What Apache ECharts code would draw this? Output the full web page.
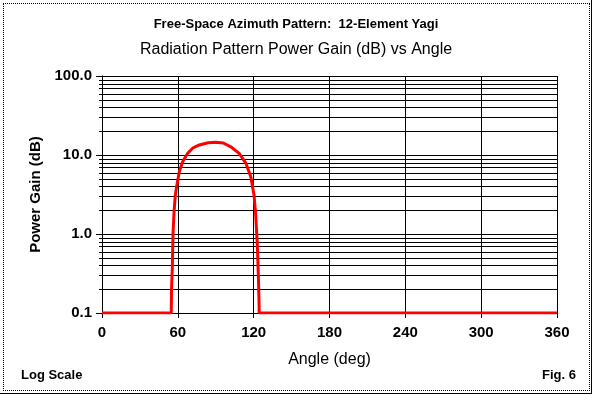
<!DOCTYPE html>
<html><head><meta charset="utf-8">
<script src="https://cdn.jsdelivr.net/npm/echarts@6/dist/echarts.min.js"></script>
<style>
html,body{margin:0;padding:0;background:#fff;}
#wrap{position:relative;width:592px;height:394px;overflow:hidden;background:#fff;}
#b1{position:absolute;left:3px;top:3px;width:585px;height:386px;border:1px dotted #000;pointer-events:none;}
#b2{position:absolute;left:0;top:0;width:591px;height:393px;border-right:1px solid #000;border-bottom:1px solid #000;pointer-events:none;}
#main{position:absolute;left:0;top:0;width:592px;height:394px;}
</style></head>
<body><div id="wrap"><div id="main"></div><div id="b1"></div><div id="b2"></div></div>
<script>
// Data
const angles = [0, 54.8, 55.0, 55.6, 56.2, 57.0, 58.0, 59.3, 61.2, 63.8, 67.8, 71.7, 77.0, 84.0, 90.0, 96.0, 101.9, 108.5, 113.8, 117.7, 120.3, 121.6, 122.9, 123.7, 124.2, 124.4, 360];
const gains  = [0.1, 0.1, 0.2, 0.35, 1.0, 1.9, 3.1, 4.2, 6.2, 8.2, 10.5, 12.2, 13.4, 14.3, 14.5, 14.2, 12.7, 10.5, 7.9, 5.3, 3.1, 1.74, 0.73, 0.30, 0.15, 0.1, 0.1];
const xTicks = [0, 60, 120, 180, 240, 300, 360];
const minorGridValues = [0.2,0.3,0.4,0.5,0.6,0.7,0.8,0.9,2,3,4,5,6,7,8,9,20,30,40,50,60,70,80,90];
const titleText = 'Free-Space Azimuth Pattern:  12-Element Yagi';
const subtitleText = 'Radiation Pattern Power Gain (dB) vs Angle';

const FONT = '"Liberation Sans", Arial, sans-serif';
const chart = echarts.init(document.getElementById('main'), null, {renderer:'canvas'});
const seriesData = angles.map((a, i) => [a, gains[i]]);

chart.setOption({
  animation: false,
  backgroundColor: 'transparent',
  title: [
    {text: titleText, left: 'center', top: 13, textStyle:{fontFamily:FONT, fontSize:13, fontWeight:'bold', color:'#000'}},
    {text: subtitleText, left: 'center', top: 37, textStyle:{fontFamily:FONT, fontSize:16, fontWeight:'normal', color:'#000'}}
  ],
  graphic: [
    {type:'text', left: 21, top: 369, style:{text:'Log Scale', font:'bold 13px ' + FONT, fill:'#000'}},
    {type:'text', right: 16, top: 369, style:{text:'Fig. 6', font:'bold 13px ' + FONT, fill:'#000'}}
  ],
  grid: {left: 102, right: 35, top: 76, bottom: 81, containLabel: false},
  xAxis: {
    type: 'value', min: 0, max: 360, interval: 60,
    name: 'Angle (deg)', nameLocation: 'middle', nameGap: 39,
    nameTextStyle: {fontFamily: FONT, fontSize: 16, color:'#000'},
    axisLine: {show: true, lineStyle: {color:'#000', width:1}},
    axisTick: {show: true, length: 5, lineStyle:{color:'#000'}},
    axisLabel: {fontFamily: FONT, fontSize: 15, fontWeight:'bold', color:'#000', margin: 12},
    splitLine: {show: true, lineStyle: {color:'#000', width:1}}
  },
  yAxis: {
    type: 'log', logBase: 10, min: 0.1, max: 100, splitNumber: 3,
    name: 'Power Gain (dB)', nameLocation: 'middle', nameGap: 57, nameRotate: 90,
    nameTextStyle: {fontFamily: FONT, fontSize: 15, fontWeight:'bold', color:'#000'},
    axisLine: {show: true, lineStyle: {color:'#000', width:1}},
    axisTick: {show: true, length: 6, lineStyle:{color:'#000'}},
    axisLabel: {fontFamily: FONT, fontSize: 15, fontWeight:'bold', color:'#000', margin: 10,
      formatter: v => Number(v).toFixed(1)},
    splitLine: {show: true, lineStyle: {color:'#000', width:1}}
  },
  series: [
    {
      type: 'custom', z: 1, silent: true, clip: false,
      data: minorGridValues.map(v => [0, v]),
      renderItem: function (params, api) {
        const v = api.value(1);
        const p0 = api.coord([0, v]);
        const p1 = api.coord([360, v]);
        const y = Math.round(p0[1]) + 0.5;
        return {type:'line', shape:{x1: Math.round(p0[0]) - 3, y1: y, x2: Math.round(p1[0]) + 0.5, y2: y},
                style:{stroke:'#000', lineWidth:1}};
      }
    },
    {
      type: 'line', z: 3, data: seriesData, symbol: 'none', smooth: false,
      lineStyle: {color:'#ff0000', width:3}, itemStyle:{color:'#ff0000'}
    }
  ]
});
</script></body></html>
